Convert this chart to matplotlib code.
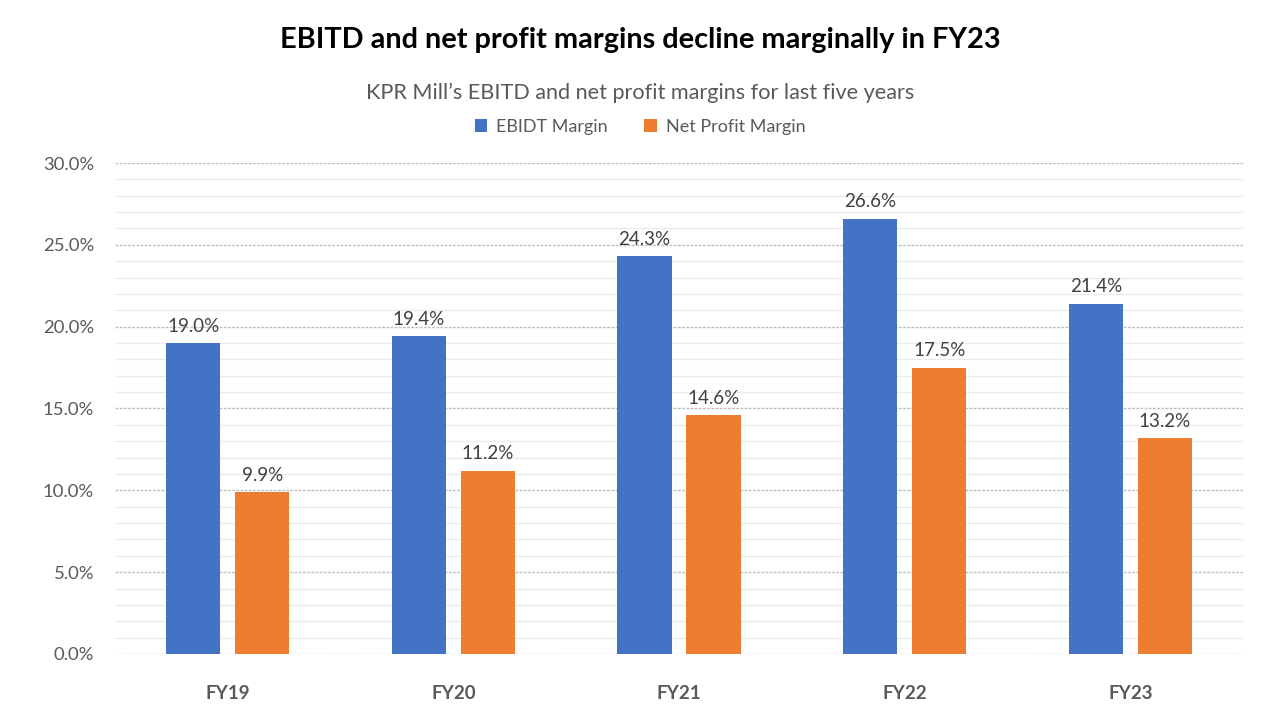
import matplotlib
matplotlib.use("Agg")
import matplotlib.pyplot as plt
import numpy as np
from matplotlib.ticker import MultipleLocator, FuncFormatter

categories = ["FY19", "FY20", "FY21", "FY22", "FY23"]
ebitd_margin = [19.0, 19.4, 24.3, 26.6, 21.4]
net_profit_margin = [9.9, 11.2, 14.6, 17.5, 13.2]
series_names = ["EBIDT Margin", "Net Profit Margin"]
colors = ["#4472C4", "#ED7D31"]

plt.rcParams['font.family'] = ['Lato', 'DejaVu Sans']

fig = plt.figure(figsize=(12.8, 7.2), dpi=100)
ax = fig.add_axes([0.0898, 0.0917, 0.8814, 0.6819])

x = np.arange(len(categories))
w = 0.24
off = 0.153
b1 = ax.bar(x - off, ebitd_margin, w, color=colors[0], label=series_names[0], zorder=3)
b2 = ax.bar(x + off, net_profit_margin, w, color=colors[1], label=series_names[1], zorder=3)

for bars, vals in ((b1, ebitd_margin), (b2, net_profit_margin)):
    for r, v in zip(bars, vals):
        ax.annotate(f"{v:.1f}%", (r.get_x() + r.get_width() / 2, v),
                    xytext=(0, 6), textcoords="offset points",
                    ha="center", va="bottom", fontsize=13.5, color="#404040")

ax.set_xlim(-0.5, len(categories) - 0.5)
ax.set_ylim(0, 30)
ax.yaxis.set_major_locator(MultipleLocator(5))
ax.yaxis.set_minor_locator(MultipleLocator(1))
ax.yaxis.set_major_formatter(FuncFormatter(lambda v, p: f"{v:.1f}%"))
ax.grid(axis="y", which="minor", color="#ebebeb", linewidth=1, linestyle="-", zorder=0)
ax.grid(axis="y", which="major", color="#bfbfbf", linewidth=1, linestyle=(0, (2, 1)), zorder=1)
ax.tick_params(axis="y", which="both", length=0, labelsize=13.3, labelcolor="#595959", pad=15)
ax.tick_params(axis="x", length=0, labelsize=13.5, labelcolor="#595959", pad=22)
ax.set_xticks(x)
ax.set_xticklabels(categories, fontweight="bold")
for s in ax.spines.values():
    s.set_visible(False)

fig.text(0.5, 1 - 40 / 720, "EBITD and net profit margins decline marginally in FY23",
         ha="center", va="center", fontsize=20.8, fontweight="bold", color="black")
fig.text(0.5, 1 - 93 / 720, "KPR Mill\u2019s EBITD and net profit margins for last five years",
         ha="center", va="center", fontsize=15.6, color="#595959")
leg = fig.legend(handles=[b1, b2], labels=series_names, loc="center",
                 bbox_to_anchor=(0.5, 1 - 127 / 720), ncol=2, frameon=False,
                 fontsize=13, handlelength=0.7, handleheight=0.7, columnspacing=2.0,
                 handletextpad=0.5)
for t in leg.get_texts():
    t.set_color("#595959")

fig.savefig("out.png", dpi=100)
